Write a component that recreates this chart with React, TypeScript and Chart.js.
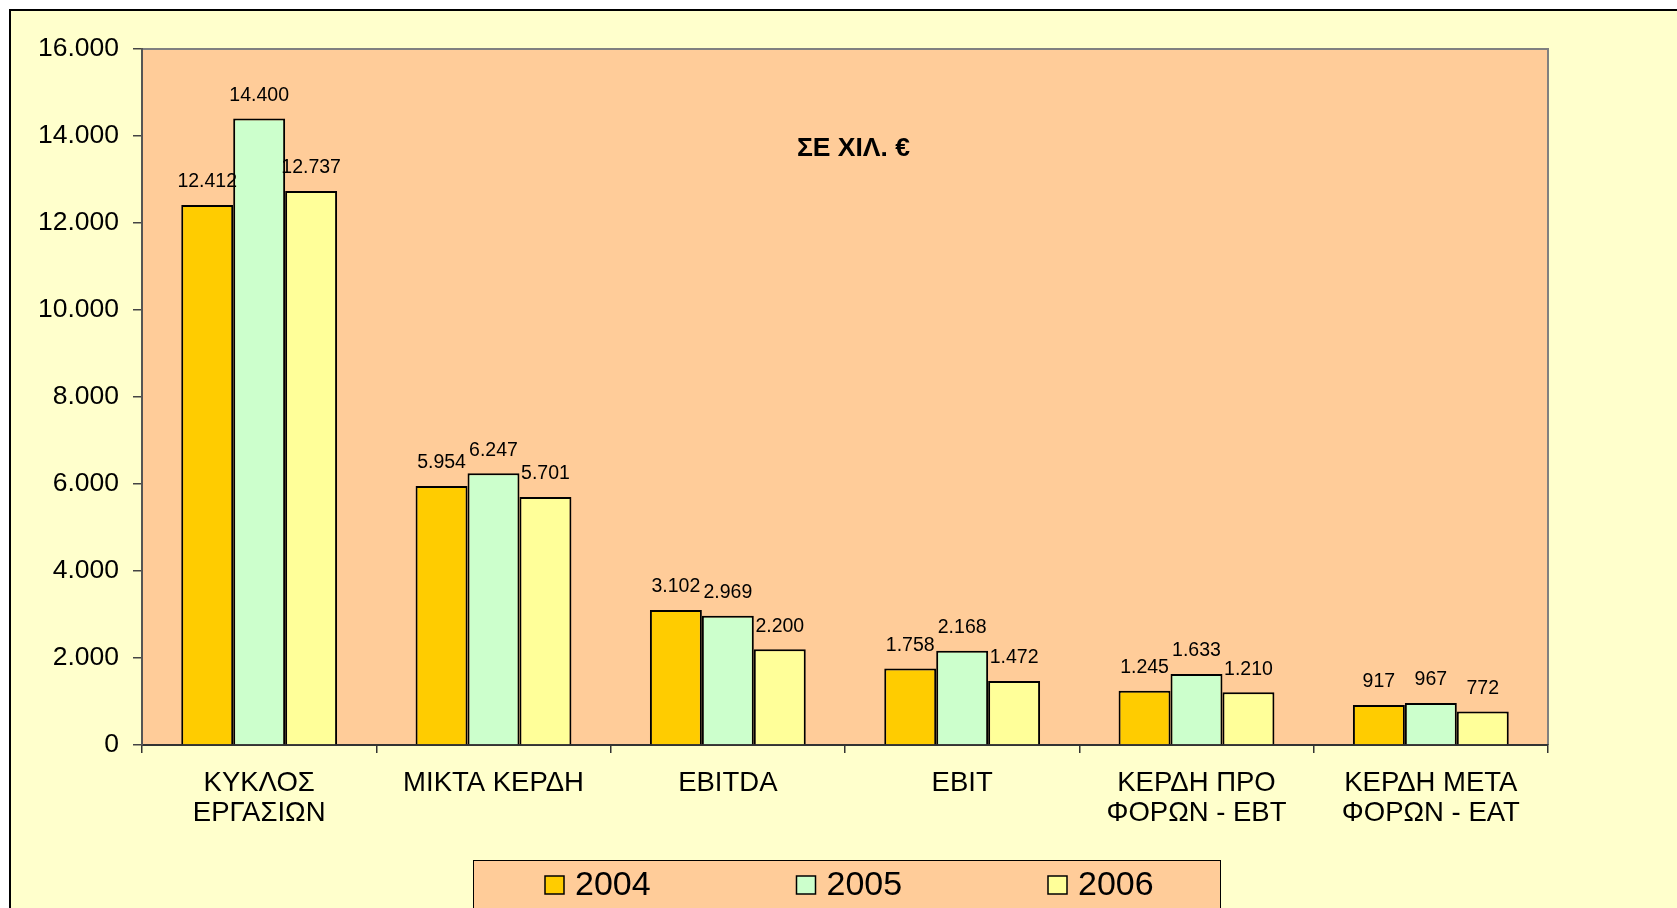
import React, { useEffect, useRef } from "react";
import { Chart, registerables } from "chart.js";

Chart.register(...registerables);

const categories: (string | string[])[] = [
  ["ΚΥΚΛΟΣ", "ΕΡΓΑΣΙΩΝ"],
  "ΜΙΚΤΑ ΚΕΡΔΗ",
  "EBITDA",
  "EBIT",
  ["ΚΕΡΔΗ ΠΡΟ", "ΦΟΡΩΝ - EBT"],
  ["ΚΕΡΔΗ ΜΕΤΑ", "ΦΟΡΩΝ - EAT"],
];
const seriesNames = ["2004", "2005", "2006"];
const values2004 = [12412, 5954, 3102, 1758, 1245, 917];
const values2005 = [14400, 6247, 2969, 2168, 1633, 967];
const values2006 = [12737, 5701, 2200, 1472, 1210, 772];
const yTicks = [0, 2000, 4000, 6000, 8000, 10000, 12000, 14000, 16000];
const titleText = "ΣΕ ΧΙΛ. €";

const colors = ["#FFCC00", "#CCFFCC", "#FFFF99"];
const FONT = "'Liberation Sans', Arial, sans-serif";

const fmt = (v: number) =>
  String(Math.round(v)).replace(/\B(?=(\d{3})+(?!\d))/g, ".");

const decorPlugin = {
  id: "decor",
  beforeDraw(chart: any) {
    const { ctx, chartArea: a } = chart;
    ctx.save();
    ctx.fillStyle = "#FFCC99";
    ctx.fillRect(a.left, a.top, a.right - a.left, a.bottom - a.top);
    ctx.strokeStyle = "#808080";
    ctx.lineWidth = 2;
    ctx.beginPath();
    ctx.moveTo(a.left, a.top);
    ctx.lineTo(a.right, a.top);
    ctx.lineTo(a.right, a.bottom);
    ctx.stroke();
    ctx.restore();
  },
  afterDatasetsDraw(chart: any) {
    const { ctx, chartArea: a } = chart;
    ctx.save();
    // data labels
    ctx.font = `19.5px ${FONT}`;
    ctx.fillStyle = "#000";
    ctx.textAlign = "center";
    ctx.textBaseline = "middle";
    chart.data.datasets.forEach((ds: any, i: number) => {
      const meta = chart.getDatasetMeta(i);
      meta.data.forEach((bar: any, j: number) => {
        ctx.fillText(fmt(ds.data[j]), bar.x, bar.y - 23);
      });
    });
    // title inside plot
    ctx.font = `bold 26.5px ${FONT}`;
    ctx.fillText(titleText, a.left + (a.right - a.left) * 0.506, 149);
    // legend
    const boxL = 473;
    const boxR = 1220;
    const boxT = 860;
    ctx.fillStyle = "#FFCC99";
    ctx.fillRect(boxL, boxT, boxR - boxL, 80);
    ctx.strokeStyle = "#000";
    ctx.lineWidth = 1;
    ctx.strokeRect(boxL + 0.5, boxT + 0.5, boxR - boxL, 80);
    chart.data.datasets.forEach((ds: any, i: number) => {
      const sx = boxL + 72 + i * 251.5;
      const cy = 885;
      ctx.fillStyle = ds.backgroundColor;
      ctx.fillRect(sx, cy - 9, 19, 18);
      ctx.strokeStyle = "#000";
      ctx.lineWidth = 1.5;
      ctx.strokeRect(sx, cy - 9, 19, 18);
      ctx.fillStyle = "#000";
      ctx.font = `34px ${FONT}`;
      ctx.textAlign = "left";
      ctx.textBaseline = "middle";
      ctx.fillText(ds.label, sx + 30, cy + 1);
    });
    ctx.restore();
  },
};

export default function App() {
  const ref = useRef<HTMLCanvasElement | null>(null);

  useEffect(() => {
    if (!ref.current) return;
    const chart = new Chart(ref.current, {
      type: "bar",
      data: {
        labels: categories,
        datasets: [values2004, values2005, values2006].map((d, i) => ({
          label: seriesNames[i],
          data: d,
          backgroundColor: colors[i],
          borderColor: "#000",
          borderWidth: 2,
          borderSkipped: "bottom",
          categoryPercentage: 0.665,
          barPercentage: 1.0,
        })),
      },
      options: {
        animation: false,
        responsive: false,
        maintainAspectRatio: false,
        devicePixelRatio: 1,
        layout: { padding: { left: 0, right: 129, top: 49, bottom: 0 } },
        plugins: {
          legend: { display: false },
          title: { display: false },
          tooltip: { enabled: false },
        },
        scales: {
          x: {
            offset: true,
            afterFit: (s: any) => {
              s.height = 163;
            },
            grid: {
              display: true,
              offset: true,
              drawOnChartArea: false,
              drawTicks: true,
              tickLength: 8,
              color: "#333",
              lineWidth: 1.5,
            },
            border: { display: true, color: "#333", width: 2 },
            ticks: {
              color: "#000",
              font: { family: FONT, size: 27.5, lineHeight: 1.1 },
              padding: 15,
              maxRotation: 0,
              autoSkip: false,
            },
          },
          y: {
            min: 0,
            max: 16000,
            afterFit: (s: any) => {
              s.width = 142;
            },
            afterBuildTicks: (s: any) => {
              s.ticks = yTicks.map((v) => ({ value: v }));
            },
            grid: {
              display: true,
              drawOnChartArea: false,
              drawTicks: true,
              tickLength: 9,
              color: "#444",
              lineWidth: 1.5,
            },
            border: { display: true, color: "#555", width: 2 },
            ticks: {
              color: "#000",
              font: { family: FONT, size: 26.5 },
              padding: 14,
              callback: (v: any) => fmt(Number(v)),
            },
          },
        },
      },
      plugins: [decorPlugin],
    });
    return () => chart.destroy();
  }, []);

  return (
    <div
      style={{
        position: "fixed",
        left: 0,
        top: 0,
        width: 1677,
        height: 908,
        overflow: "hidden",
        background: "#fff",
      }}
    >
      <div
        style={{
          position: "absolute",
          left: 9,
          top: 9,
          width: 2000,
          height: 2000,
          border: "2px solid #000",
          background: "#FFFFCC",
        }}
      />
      <canvas
        ref={ref}
        width={1677}
        height={908}
        style={{ position: "absolute", left: 0, top: 0, width: 1677, height: 908 }}
      />
    </div>
  );
}
